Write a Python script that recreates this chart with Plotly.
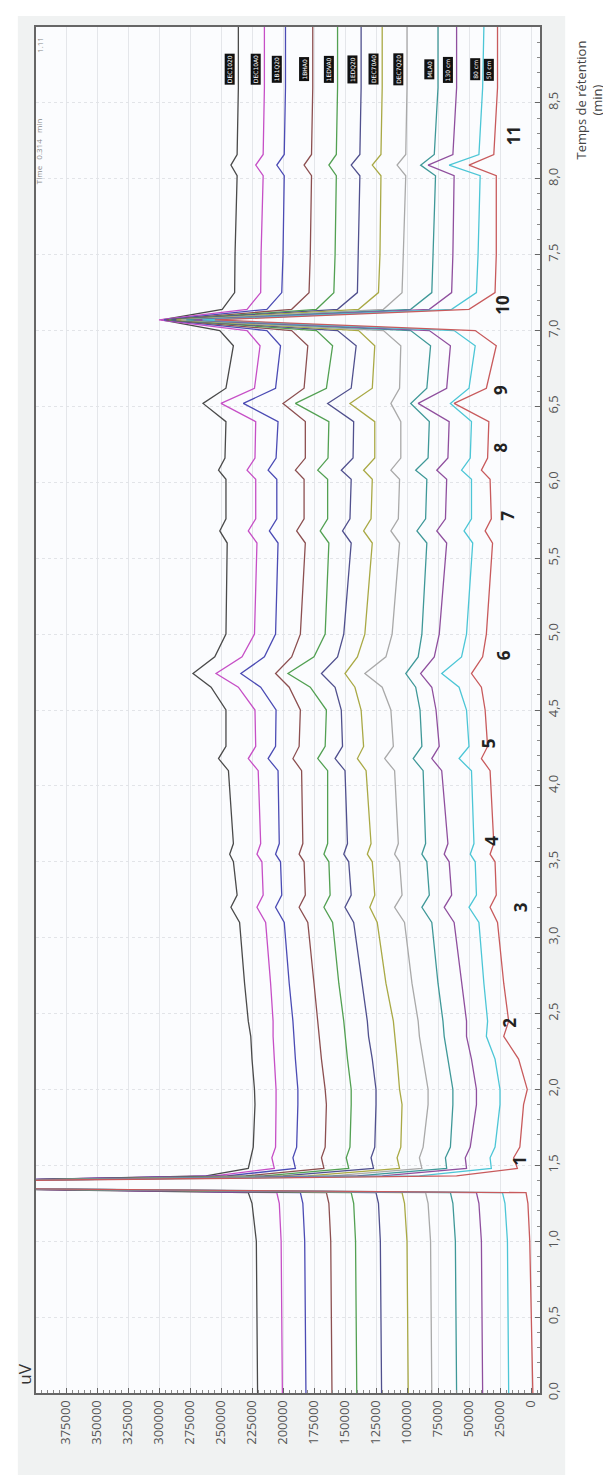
import plotly.graph_objects as go

# retention time grid (min)
T = [0.00, 0.50, 1.00, 1.25, 1.32, 1.35, 1.395, 1.43, 1.48, 1.55, 1.62, 1.90, 2.00, 2.20, 2.35, 2.45,
     2.70, 3.10, 3.20, 3.28, 3.50, 3.55, 3.62, 4.10, 4.18, 4.26, 4.50, 4.65, 4.74, 4.85, 5.00, 5.60,
     5.68, 5.76, 6.02, 6.08, 6.16, 6.40, 6.52, 6.62, 6.90, 7.00, 7.07, 7.14, 7.25, 7.50, 8.02, 8.09,
     8.16, 8.60, 9.00]

# signal (thousands of uV), one list per chromatogram
red = [-1.5, -0.5, 1, 2.5, 4, 480, 480, 60, 11, 14, 9, 6, 3, 10, 22, 18,
       22, 27, 33, 28, 29, 33, 30, 33, 40, 35, 37, 40, 48, 39, 36, 31,
       37, 32, 33, 40, 35, 34, 62, 36, 28, 45, 255, 50, 29, 28, 28, 50,
       30, 27, 27]
cyan = [18, 18.5, 19, 21, 23, 480, 480, 90, 32, 33, 29, 25, 25, 29, 36, 35,
        38, 42, 50, 44, 45, 49, 46, 48, 58, 50, 52, 58, 72, 56, 52, 47,
        54, 48, 48, 56, 49, 48, 65, 50, 45, 62, 265, 64, 44, 42.7, 41, 66,
        42, 39, 38]
purple = [39, 39.5, 40, 42, 44, 480, 480, 120, 52, 53, 49, 44, 44, 48, 52, 52,
          56, 62, 70, 64, 66, 70, 67, 72, 80, 74, 76.6, 80, 89, 78, 74, 68,
          76, 69, 68, 76, 67, 66, 91, 68, 65, 82, 272, 82, 64, 63, 62, 83,
          63, 60, 60]
teal = [60, 60.5, 61, 63, 65, 480, 480, 140, 68, 69, 65, 63, 63, 67, 70, 71,
        75, 80, 88, 82, 84, 88, 85, 87, 95, 88, 89.5, 93, 101, 91, 88, 84,
        92, 85, 84, 93, 83, 82, 97, 84, 81, 97, 278, 97, 80, 79, 77, 89,
        78, 75, 75]
lgray = [80, 80.5, 81, 83, 85, 480, 480, 160, 88, 90, 87, 83, 83, 87, 90, 91,
         96, 102, 110, 104, 106, 110, 107, 110, 118, 111, 113, 120, 134, 117, 112, 106,
         113, 107, 106, 113, 105, 105, 113, 106, 105, 119, 282, 119, 104, 103, 101, 108,
         101, 100, 100]
olive = [99, 99.5, 100, 102, 104, 480, 480, 180, 106, 108, 105, 104, 106, 108, 110, 111,
         117, 124, 130, 126, 128, 132, 129, 133, 140, 135, 137, 142, 150, 140, 134, 128,
         135, 129, 128, 135, 126, 126, 146, 128, 126, 139, 286, 139, 123, 121.8, 121, 128,
         121, 120, 120]
slate = [120.5, 121, 121.5, 123, 125, 480, 480, 200, 127, 129, 126, 125, 125, 128, 131, 132,
         136, 143, 150, 145, 147, 151, 148, 150, 158, 152, 153, 158, 169, 156, 151, 145,
         152, 146, 145, 153, 143.5, 143, 164, 145, 141, 156, 290, 156, 140, 139.5, 138, 145,
         138, 137, 137]
green = [140.5, 141, 141.5, 143, 145, 480, 480, 215, 147, 149, 146, 145, 145, 148, 150, 151,
         155, 160, 167, 162, 163, 167, 164, 164, 172, 166, 165, 178, 196, 175, 166, 163,
         170, 164, 164, 172, 163.7, 163, 190, 165, 160, 173, 292, 173, 159, 158, 157, 163,
         157, 156, 156]
brown = [160.5, 161, 161.5, 163, 165, 480, 480, 230, 167, 169, 166, 165, 166, 169, 171, 172,
         175, 180, 187, 182, 183, 187, 184, 185, 192, 187, 186, 195, 206, 193, 186, 182,
         189, 183, 183, 190, 182, 182, 200, 183, 180, 193, 294, 193, 179, 178, 177, 183,
         177, 176, 176]
blue = [181.5, 182, 182.5, 184, 186, 480, 480, 245, 190, 192, 189, 188, 188, 190, 191, 192,
        195, 199, 206, 201, 202, 206, 203, 204, 212, 206, 205.6, 218, 234, 215, 206, 204,
        211, 205, 205, 212, 205.6, 204, 232, 206, 202, 213, 296, 213, 201, 200, 199, 205,
        199, 198, 198]
magenta = [200.5, 201, 201.5, 203, 205, 480, 480, 255, 207, 209, 206, 205.6, 205.6, 207, 208, 208,
           210, 214, 221, 216, 217, 221, 218, 220, 228, 222, 222.6, 236, 254, 233, 223, 221,
           228, 222, 222, 229, 222.6, 222, 250, 223, 218.5, 229, 300, 229, 218, 217.7, 216, 222,
           216, 215, 215]
black = [220.5, 221, 221.5, 225, 228, 480, 480, 262, 228, 226, 224, 222.6, 223, 225, 226, 228,
         231, 235, 242, 237, 240, 243, 240, 244, 252, 246, 246, 258, 272.6, 255, 246, 245,
         251, 246, 246, 252, 246.8, 246, 264.5, 246, 240, 251, 298, 249, 239, 238.7, 237, 242,
         237, 236, 236]

series = [
    ("DEC1020", black, "#4a4a4a"),
    ("DEC10A0", magenta, "#c64fc6"),
    ("1B1Q20", blue, "#4b4bb4"),
    ("1BHA0", brown, "#8c4f50"),
    ("1EDVA0", green, "#52a052"),
    ("1EDQ20", slate, "#50508e"),
    ("DEC70A0", olive, "#a9a945"),
    ("DEC7Q20", lgray, "#a9a9a9"),
    ("MLA0", teal, "#3f9898"),
    ("130 cm", purple, "#8f4f9e"),
    ("80 cm", cyan, "#4cc6d6"),
    ("50 cm", red, "#c85a5c"),
]

peak_labels = ["1", "2", "3", "4", "5", "6", "7", "8", "9", "10", "11"]
peak_times = [1.53, 2.44, 3.20, 3.64, 4.28, 4.86, 5.78, 6.23, 6.61, 7.17, 8.28]
peak_uv = [8.9, 16.9, 8.9, 32, 34.7, 22.6, 18.5, 25, 24, 22.6, 14.5]

uv_ticks = list(range(0, 375001, 25000))
time_ticks = [i * 0.5 for i in range(18)]

fig = go.Figure()
for name, vals, col in series:
    fig.add_trace(go.Scatter(x=[v * 1000 for v in vals], y=T, mode="lines", name=name,
                             line=dict(color=col, width=1.3), showlegend=False))

ann = []
for name, vals, col in series:
    ann.append(dict(x=(vals[-1] + 7) * 1000, y=8.72, xref="x", yref="y", text=name,
                    textangle=-90, showarrow=False, bgcolor="#111111",
                    font=dict(size=6, color="white", family="DejaVu Sans"), borderpad=1))
for lab, tt, uv in zip(peak_labels, peak_times, peak_uv):
    ann.append(dict(x=uv * 1000, y=tt, xref="x", yref="y", text="<b>" + lab + "</b>",
                    textangle=-90, showarrow=False,
                    font=dict(size=17, color="#222", family="Open Sans")))
ann.append(dict(x=397000, y=8.18, xref="x", yref="y", text="Time   0.314   min",
                textangle=-90, showarrow=False, xanchor="center", yanchor="middle",
                font=dict(size=8, color="#888")))
ann.append(dict(x=397000, y=8.88, xref="x", yref="y", text="1.11",
                textangle=-90, showarrow=False, xanchor="center", yanchor="middle",
                font=dict(size=8, color="#888")))
ann.append(dict(x=-0.022, y=0.014, xref="paper", yref="paper", text="uV", textangle=-90,
                showarrow=False, xanchor="center", yanchor="middle",
                font=dict(size=17, color="#333", family="Open Sans")))
ann.append(dict(x=1.137, y=0.9466, xref="paper", yref="paper",
                text="Temps de rétention<br>(min)", textangle=-90, showarrow=False,
                xanchor="right", yanchor="middle",
                font=dict(size=13, color="#444", family="Open Sans")))

shapes = [
    dict(type="rect", xref="paper", yref="paper", x0=-0.036, x1=1.05, y0=-0.064, y1=1.008,
         fillcolor="#f0f2f2", line=dict(width=0), layer="below"),
    dict(type="rect", xref="paper", yref="paper", x0=0, x1=1, y0=0, y1=1,
         fillcolor="#fbfcfe", line=dict(width=0), layer="below"),
]

fig.update_layout(
    width=611, height=1475,
    margin=dict(l=28, r=79, t=19, b=90),
    paper_bgcolor="white", plot_bgcolor="#fbfcfe",
    annotations=ann, shapes=shapes,
    xaxis=dict(range=[399200, -7260], tickvals=uv_ticks, ticktext=[str(v) for v in uv_ticks],
               tickangle=-90, tickfont=dict(size=13, color="#555", family="Open Sans"),
               showgrid=True, gridcolor="#e4e6ea", gridwidth=1, zeroline=False,
               showline=True, linecolor="#666", linewidth=2, mirror=True,
               ticks="inside", ticklen=5, tickcolor="#666",
               minor=dict(dtick=5000, ticks="inside", ticklen=3, tickcolor="#888", showgrid=False)),
    yaxis=dict(range=[0, 9.0], side="right", tickvals=time_ticks,
               ticktext=[f"{v:.1f}".replace(".", ",") for v in time_ticks],
               tickangle=-90, tickfont=dict(size=13, color="#555", family="Open Sans"),
               showgrid=True, gridcolor="#e2e4e8", griddash="dot", gridwidth=1, zeroline=False,
               showline=True, linecolor="#666", linewidth=2, mirror=True,
               ticks="inside", ticklen=5, tickcolor="#666",
               minor=dict(dtick=0.1, ticks="inside", ticklen=3, tickcolor="#888", showgrid=False)),
)

fig.write_html("out.html")
